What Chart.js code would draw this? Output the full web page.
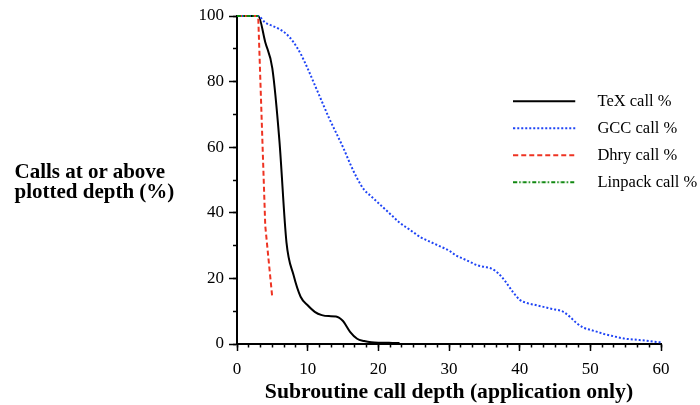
<!DOCTYPE html>
<html><head><meta charset="utf-8">
<script src="https://cdn.jsdelivr.net/npm/chart.js@4"></script>
<style>
html,body{margin:0;padding:0;background:#fff;}
#wrap{position:relative;width:700px;height:405px;overflow:hidden;}
#c{position:absolute;left:0;top:0;}
#yt{position:absolute;left:14.5px;top:162px;font:bold 21px/19.8px 'Liberation Serif',serif;color:#000;white-space:nowrap;}
</style></head><body>
<div id="wrap"><canvas id="c" width="700" height="405"></canvas><div id="yt">Calls at or above<br>plotted depth (%)</div></div>
<script>
// ---- data ----
const seriesNames = ['TeX call %', 'GCC call %', 'Dhry call %', 'Linpack call %'];
const xTitle = 'Subroutine call depth (application only)';
const texDepth = [0,1,2,3,4,5,6,7,8,9,10,11,12,13,14,15,16,17,18,19,20,21,22,23];
const texCalls = [100,100,100,100,92,84,62,31,21,14.4,11.8,9.8,8.8,8.5,8.4,7,3.7,1.6,0.9,0.5,0.4,0.4,0.3,0.3];
const gccDepth = [0,1,2,3,4,5,6,7,8,9,10,11,12,13,14,15,16,17,18,19,20,21,22,23,24,25,26,27,28,29,30,31,32,33,34,35,36,37,38,39,40,41,42,43,44,45,46,47,48,49,50,51,52,53,54,55,56,57,58,59,60];
const gccCalls = [100,100,100,100,98,97,96,94.5,92,88.5,84,79,74,69,64.5,60,55,50.5,47,45,43,41,39,37,35.5,34,32.5,31.5,30.5,29.5,28.5,27,26,25,24,23.5,23,21.5,19,16,13.5,12.5,12,11.5,11,10.5,10,8.5,6.5,5,4.3,3.7,3,2.5,2,1.6,1.4,1.2,1,0.7,0.5];
const dhryDepth = [0,1,2,3,4,5];
const dhryCalls = [100,100,100,100,36,14];
const linpackDepth = [0,1,2,3];
const linpackCalls = [100,100,100,100];
const xMajorTicks = [0,10,20,30,40,50,60];
const yMajorTicks = [0,20,40,60,80,100];
const yMinorTicks = [0,10,20,30,40,50,60,70,80,90,100];
const xMinorTicks = Array.from({length:37}, (_, i) => i * 10 / 6);

const pts = (xs, ys) => xs.map((x, i) => ({x: x, y: ys[i]}));

function sample(color, width, dash) {
  const c = document.createElement('canvas');
  c.width = 76; c.height = 6;
  const g = c.getContext('2d');
  g.strokeStyle = color; g.lineWidth = width; g.setLineDash(dash);
  g.beginPath(); g.moveTo(0, 3); g.lineTo(62, 3); g.stroke();
  return c;
}

const styles = [
  {color:'#000000', width:2, dash:[]},
  {color:'#1f44f5', width:2, dash:[2,2]},
  {color:'#ee3322', width:2, dash:[5,3]},
  {color:'#118811', width:2, dash:[4,2,1.5,2]}
];
const seriesData = [pts(texDepth, texCalls), pts(gccDepth, gccCalls), pts(dhryDepth, dhryCalls), pts(linpackDepth, linpackCalls)];
const modes = ['monotone', 'monotone', 'default', 'default'];
const orders = [4, 3, 2, 1];

const datasets = seriesNames.map((n, i) => ({
  label: n,
  data: seriesData[i],
  borderColor: styles[i].color,
  backgroundColor: styles[i].color,
  borderWidth: styles[i].width,
  borderDash: styles[i].dash,
  pointRadius: 0,
  pointHoverRadius: 0,
  pointStyle: sample(styles[i].color, styles[i].width, styles[i].dash),
  cubicInterpolationMode: modes[i],
  tension: 0,
  fill: false,
  clip: false,
  order: orders[i]
}));

const FONT = 'Liberation Serif';

const legendPlace = {
  id: 'legendPlace',
  afterLayout(chart) { place(chart); },
  beforeDraw(chart) { place(chart); }
};
function place(chart) {
  const lg = chart.legend;
  if (!lg) return;
  lg.left = 502.7; lg.top = 82.5; lg.right = 700; lg.bottom = 405;
  lg.width = 197.3; lg.height = 322.5;
}

new Chart(document.getElementById('c'), {
  type: 'line',
  data: { datasets: datasets },
  plugins: [legendPlace],
  options: {
    responsive: false,
    animation: false,
    devicePixelRatio: 1,
    layout: { padding: { left: 177, right: 39, top: 16, bottom: 0 } },
    plugins: {
      tooltip: { enabled: false },
      legend: {
        position: 'chartArea',
        align: 'start',
        labels: {
          usePointStyle: true,
          pointStyleWidth: 76,
          boxWidth: 76,
          boxHeight: 16.5,
          padding: 10.5,
          color: '#000',
          font: { family: FONT, size: 16.5 },
          sort: (a, b) => a.datasetIndex - b.datasetIndex
        }
      }
    },
    scales: {
      x: {
        type: 'linear', position: 'bottom', min: 0, max: 60, weight: 0,
        afterBuildTicks: s => { s.ticks = xMajorTicks.map(v => ({value: v})); },
        ticks: { font: { family: FONT, size: 17 }, color: '#000', padding: 8, maxRotation: 0, autoSkip: false },
        grid: { drawOnChartArea: false, drawTicks: true, tickLength: 7, tickWidth: 1.5, tickColor: '#000' },
        border: { display: true, color: '#000', width: 2 },
        title: { display: true, text: xTitle, color: '#000', font: { family: FONT, size: 21.7, weight: 'bold' }, padding: { top: 0, bottom: 0 } },
        afterFit: s => { s.height = 61; }
      },
      xMinor: {
        type: 'linear', position: 'bottom', min: 0, max: 60, weight: -1,
        afterBuildTicks: s => { s.ticks = xMinorTicks.map(v => ({value: v})); },
        ticks: { display: false },
        grid: { drawOnChartArea: false, drawTicks: true, tickLength: 3.5, tickWidth: 1.5, tickColor: '#000' },
        border: { display: false },
        afterFit: s => { s.height = 0; }
      },
      y: {
        type: 'linear', position: 'left', min: 0, max: 100, weight: 0,
        afterBuildTicks: s => { s.ticks = yMajorTicks.map(v => ({value: v})); },
        ticks: { font: { family: FONT, size: 17 }, color: '#000', padding: 5 },
        grid: { drawOnChartArea: false, drawTicks: true, tickLength: 8, tickWidth: 1.5, tickColor: '#000' },
        border: { display: true, color: '#000', width: 2 },
        afterFit: s => { s.width = 60; }
      },
      yMinor: {
        type: 'linear', position: 'left', min: 0, max: 100, weight: -1,
        afterBuildTicks: s => { s.ticks = yMinorTicks.map(v => ({value: v})); },
        ticks: { display: false },
        grid: { drawOnChartArea: false, drawTicks: true, tickLength: 4, tickWidth: 1.5, tickColor: '#000' },
        border: { display: false },
        afterFit: s => { s.width = 0; }
      }
    }
  }
});
</script>
</body></html>
